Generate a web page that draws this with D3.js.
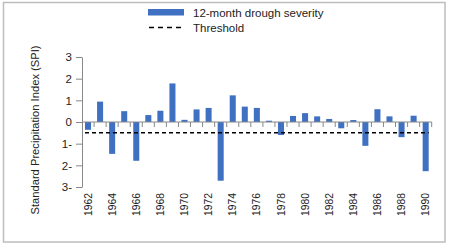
<html>
<head>
    <script src="https://cdn.jsdelivr.net/npm/d3@7"></script>
    <style>
        body { margin: 0; background: #fff; }
        text { font-family: "Liberation Sans", Arial, sans-serif; fill: #222; }
    </style>
</head>
<body>
    <div id="container"></div>
    <script>
        // SPI values per year
        const years = [1962, 1963, 1964, 1965, 1966, 1967, 1968, 1969, 1970, 1971,
            1972, 1973, 1974, 1975, 1976, 1977, 1978, 1979, 1980, 1981,
            1982, 1983, 1984, 1985, 1986, 1987, 1988, 1989, 1990];
        const spi = [-0.36, 0.94, -1.47, 0.5, -1.79, 0.32, 0.52, 1.78, 0.1, 0.58,
            0.65, -2.71, 1.23, 0.71, 0.65, 0.06, -0.6, 0.28, 0.41, 0.26,
            0.14, -0.29, 0.09, -1.1, 0.59, 0.26, -0.7, 0.29, -2.27];
        const threshold = -0.5;
        const yTicks = [3, 2, 1, 0, -1, -2, -3];
        const xLabels = years.filter((d, i) => i % 2 === 0);
        const legendLabels = ["12-month drough severity", "Threshold"];

        const width = 452, height = 249;
        const blue = "#3f70c2";

        const svg = d3.select("#container").append("svg")
            .attr("width", width)
            .attr("height", height);

        // outer chart border
        svg.append("rect")
            .attr("x", 3.5).attr("y", 2.5)
            .attr("width", 441.5).attr("height", 239.5)
            .attr("fill", "none")
            .attr("stroke", "#bdbdbd")
            .attr("stroke-width", 1.5);

        const x = d3.scaleBand()
            .domain(years)
            .range([82, 431.7])
            .paddingInner(0.5)
            .paddingOuter(0.25);

        const y = d3.scaleLinear()
            .domain([-3, 3])
            .range([187, 57]);

        // bars
        svg.append("g")
            .selectAll("rect")
            .data(years.map((d, i) => ({ year: d, v: spi[i] })))
            .join("rect")
            .attr("x", d => x(d.year))
            .attr("width", x.bandwidth())
            .attr("y", d => y(Math.max(0, d.v)))
            .attr("height", d => Math.abs(y(d.v) - y(0)))
            .attr("fill", blue);

        // y axis
        const yAxis = svg.append("g")
            .attr("transform", "translate(82,0)")
            .call(d3.axisLeft(y)
                .tickValues(yTicks)
                .tickSize(6)
                .tickSizeOuter(0)
                .tickPadding(4)
                .tickFormat(d => d < 0 ? Math.abs(d) + "-" : d));
        yAxis.select(".domain").attr("stroke", "#888");
        yAxis.selectAll(".tick line").attr("stroke", "#888");
        yAxis.selectAll(".tick text")
            .attr("font-size", 11.5)
            .style("font-family", "Liberation Sans, Arial, sans-serif")
            .attr("fill", "#222");

        // x axis along zero
        const step = x.step();
        const bounds = years.map(d => x(d) + x.bandwidth() / 2 - step / 2);
        bounds.push(x(years[years.length - 1]) + x.bandwidth() / 2 + step / 2);

        const xAxis = svg.append("g");
        xAxis.append("line")
            .attr("x1", x.range()[0]).attr("x2", x.range()[1])
            .attr("y1", y(0)).attr("y2", y(0))
            .attr("stroke", "#888");
        xAxis.selectAll(".xt")
            .data(bounds.slice(1))
            .join("line")
            .attr("class", "xt")
            .attr("x1", d => d).attr("x2", d => d)
            .attr("y1", y(0)).attr("y2", y(0) + 5)
            .attr("stroke", "#888");

        // year labels at the bottom
        svg.append("g")
            .selectAll("text")
            .data(xLabels)
            .join("text")
            .attr("transform", d => `translate(${x(d) + x.bandwidth() / 2},193) rotate(-90)`)
            .attr("text-anchor", "end")
            .attr("dy", "0.35em")
            .attr("font-size", 10.3)
            .text(d => d);

        // threshold line
        svg.append("line")
            .attr("x1", x(years[0])).attr("x2", x(years[years.length - 1]) + x.bandwidth())
            .attr("y1", y(threshold)).attr("y2", y(threshold))
            .attr("stroke", "#000")
            .attr("stroke-width", 1.5)
            .attr("stroke-dasharray", "4,3");

        // y axis title
        svg.append("text")
            .attr("transform", "translate(35,130) rotate(-90)")
            .attr("text-anchor", "middle")
            .attr("dy", "0.35em")
            .attr("font-size", 11.2)
            .text("Standard Precipitation Index (SPI)");

        // legend
        const legend = svg.append("g");
        legend.append("rect")
            .attr("x", 148).attr("y", 9)
            .attr("width", 36).attr("height", 6.5)
            .attr("fill", blue);
        legend.append("line")
            .attr("x1", 149).attr("x2", 185)
            .attr("y1", 27.5).attr("y2", 27.5)
            .attr("stroke", "#000")
            .attr("stroke-width", 1.5)
            .attr("stroke-dasharray", "5,4");
        legend.selectAll("text")
            .data(legendLabels)
            .join("text")
            .attr("x", 193)
            .attr("y", (d, i) => 12.5 + i * 15)
            .attr("dy", "0.35em")
            .attr("font-size", 11.5)
            .text(d => d);
    </script>
</body>
</html>
